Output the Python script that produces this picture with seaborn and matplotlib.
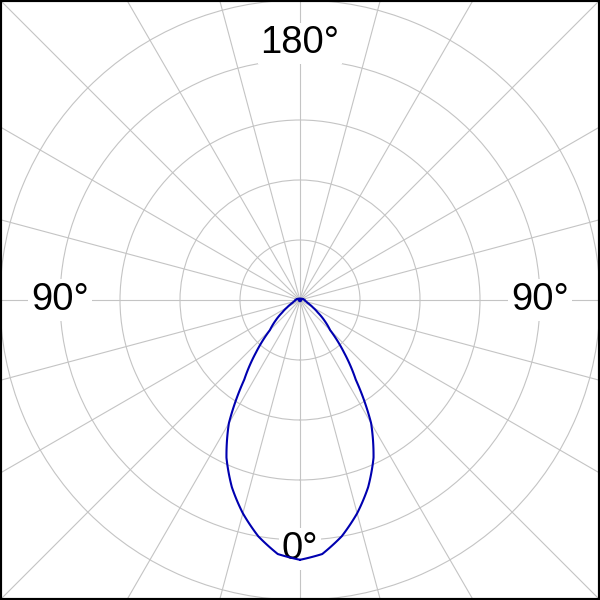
import numpy as np
import pandas as pd
import matplotlib
matplotlib.use("Agg")
import matplotlib.pyplot as plt
import seaborn as sns
from matplotlib.patches import Rectangle

# ---- data ----
gamma_deg = [0, 5, 10, 15, 20, 25, 30, 35, 40, 45, 50, 55, 60, 65, 70, 75, 80, 85, 90,
             95, 100, 105, 110, 115, 120, 125, 130, 135, 140, 145, 150, 155, 160, 165,
             170, 175, 180]
intensity = [4.33, 4.25, 4.00, 3.68, 3.32, 2.90, 2.37, 1.62, 1.14, 0.71, 0.53, 0.36, 0.25,
             0.18, 0.13, 0.11, 0.09, 0.08, 0.08, 0.07, 0.06, 0.05, 0.05, 0.04, 0.04, 0.03,
             0.03, 0.03, 0.02, 0.02, 0.02, 0.02, 0.02, 0.02, 0.02, 0.02, 0.02]
ring_values = [1, 2, 3, 4, 5]
angle_labels = ["180°", "90°", "90°", "0°"]
angle_label_pos = [180, 90, -90, 0]
angle_label_r = [4.28, 4.0, 4.0, 4.15]

sns.set_theme(style="white")
plt.rcParams["font.family"] = ["Liberation Sans", "DejaVu Sans"]

# closed curve: right half (C0) and mirrored left half (C180)
g = np.array(gamma_deg, dtype=float)
I = np.array(intensity, dtype=float)
theta = np.concatenate([np.radians(g), np.radians(-g[::-1])])
rad = np.concatenate([I, I[::-1]])
df = pd.DataFrame({"theta": theta, "r": rad})

fig = plt.figure(figsize=(6, 6), dpi=100)
px_per_unit = 60.0
R_px = 432.0
w = 2 * R_px / 600.0
ax = fig.add_axes([0.5 - w / 2, 0.5 - w / 2, w, w], projection="polar")
ax.set_theta_zero_location("S")
ax.set_theta_direction(1)
ax.set_ylim(0, R_px / px_per_unit)
ax.set_rticks(ring_values)
ax.set_yticklabels([])
ax.set_thetagrids(np.arange(0, 360, 15), labels=[""] * 24)
ax.grid(True, color="#c4c4c4", linewidth=0.8)
ax.spines["polar"].set_visible(False)
ax.set_facecolor("white")

sns.lineplot(data=df, x="theta", y="r", ax=ax, sort=False, estimator=None,
             color="#0000b0", linewidth=1.5, legend=False, zorder=8)
for ln in ax.lines:
    ln.get_path()._interpolation_steps = 30
ax.set_xlabel("")
ax.set_ylabel("")

for lab, a, r in zip(angle_labels, angle_label_pos, angle_label_r):
    ax.text(np.radians(a), r, lab, ha="center", va="center", fontsize=27.5,
            color="black", zorder=5,
            bbox=dict(facecolor="white", edgecolor="none", pad=2))

fig.patches.append(Rectangle((0, 0), 1, 1, transform=fig.transFigure, fill=False,
                             edgecolor="black", linewidth=3.0, zorder=10))

fig.savefig("out.png", dpi=100)
